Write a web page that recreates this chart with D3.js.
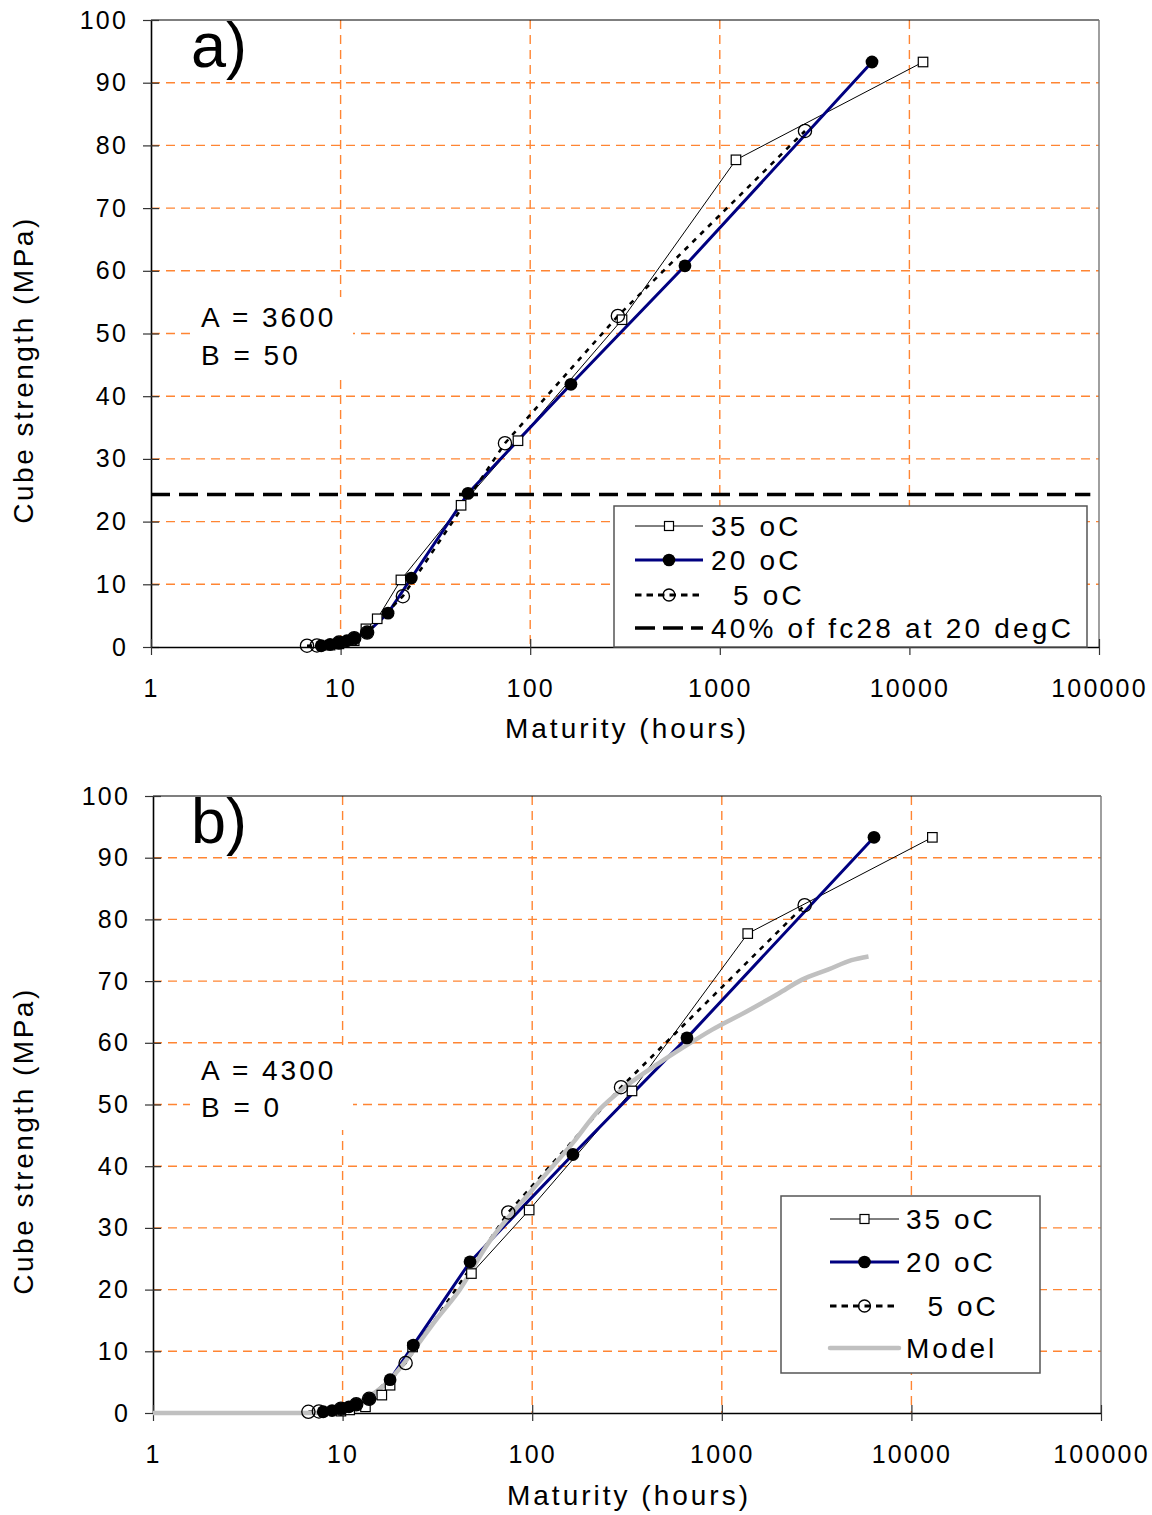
<!DOCTYPE html>
<html>
<head>
<meta charset="utf-8">
<script src="https://cdn.jsdelivr.net/npm/d3@7"></script>
<style>
  body { margin: 0; background: #fff; }
  svg text { font-family: "Liberation Sans", Arial, sans-serif; fill: #000; }
</style>
</head>
<body>
<svg id="chart" width="1152" height="1515"></svg>
<script>
// ---- axis ticks -------------------------------------------------------
const yTicks = [0, 10, 20, 30, 40, 50, 60, 70, 80, 90, 100];
const xTicks = [1, 10, 100, 1000, 10000, 100000];
const xTickLabels = ["1", "10", "100", "1000", "10000", "100000"];

// ---- cube strengths (MPa), same specimens in both panels --------------
const str35 = [0.3, 0.5, 1.0, 2.9, 4.5, 10.7, 22.6, 32.9, 52.2, 77.7, 93.3];
const str20 = [0.2, 0.4, 0.7, 1.0, 1.4, 2.3, 5.4, 11.0, 24.5, 41.9, 60.8, 93.3];
const str5  = [0.2, 0.25, 0.7, 1.4, 2.3, 8.1, 32.5, 52.8, 82.3];

// ---- maturity (hours) at 20 oC reference: equal in both panels ---------
const mat20 = [7.9, 8.8, 9.8, 10.8, 11.8, 13.8, 17.8, 23.6, 47, 164, 655, 6350];

// ---- panel a) maturity, A = 3600, B = 50 ------------------------------
const matA35 = [8.8, 9.8, 11.8, 13.6, 15.6, 20.8, 43.2, 86.2, 305, 1217, 11800];
const matA5  = [6.65, 7.5, 9.8, 11.8, 13.8, 21.3, 73.6, 290, 2813];

// ---- panel b) maturity, A = 4300, B = 0 -------------------------------
const matB35 = [9.8, 10.9, 13.2, 16.1, 17.8, 23.4, 47.8, 96.4, 336, 1370, 12900];
const matB5  = [6.6, 7.5, 9.8, 11.8, 13.8, 21.5, 74.8, 294, 2735];

// ---- strength model curve (panel b) -----------------------------------
const modelMat = [1, 6.7, 10.5, 13.3, 16.3, 20, 24.4, 31.1, 41.3, 57.1, 99.7, 163, 225,
                  311, 466, 594, 886, 1337, 1995, 2636, 3656, 4831, 5940];
const modelStr = [0, 0, 1.0, 2.4, 4.3, 7.2, 10.7, 15.1, 19.9, 27.0, 36.1, 43.7, 49.1,
                  52.9, 56.7, 58.8, 62.1, 65.0, 68.0, 70.2, 71.9, 73.4, 74.0];

// ---- 40 % of the 28-day strength at 20 oC (28 d = 672 h sample) -------
const fc28 = str20[10];
const thresholdMat = [1, 90000];
const thresholdStr = [0.4 * fc28, 0.4 * fc28];

// ---- labels -----------------------------------------------------------
const seriesLabels = ["35 oC", "20 oC", "  5 oC"];
const thresholdLabel = "40% of fc28 at 20 degC";
const modelLabel = "Model";
const xTitle = "Maturity (hours)";
const yTitle = "Cube strength (MPa)";

const GRID = "#ff8533";
const NAVY = "#000080";
const MODEL = "#c0c0c0";

const panels = [
  {
    tag: "a)", A: "3600", B: "50",
    left: 151, right: 1099, top: 20, bottom: 647,
    mat35: matA35, mat5: matA5, threshold: true, model: false,
    ann: { x: 201, y1: 327, y2: 365 },
    yTitleY: 370, xTitleY: 738, tagY: 67,
    legend: { x: 614, y: 506, w: 473, h: 141, sx1: 635, sx2: 703, tx: 711,
              rows: [526, 560, 595, 628], font: 28, ls: 3.2 }
  },
  {
    tag: "b)", A: "4300", B: "0",
    left: 153, right: 1101, top: 796, bottom: 1413,
    mat35: matB35, mat5: matB5, threshold: false, model: true,
    ann: { x: 201, y1: 1080, y2: 1117 },
    yTitleY: 1141, xTitleY: 1505, tagY: 843,
    legend: { x: 781, y: 1196, w: 259, h: 177, sx1: 830, sx2: 899, tx: 906,
              rows: [1219, 1262, 1306, 1348], font: 28, ls: 3.0 }
  }
];

const svg = d3.select("#chart");

function drawSquare(sel, cx, cy, s) {
  sel.append("rect").attr("x", cx - s / 2).attr("y", cy - s / 2)
    .attr("width", s).attr("height", s)
    .attr("fill", "#fff").attr("stroke", "#000").attr("stroke-width", 1.2);
}

panels.forEach(p => {
  const g = svg.append("g");
  const x = d3.scaleLog().domain([1, 100000]).range([p.left, p.right]);
  const y = d3.scaleLinear().domain([0, 100]).range([p.bottom, p.top]);
  const line = d3.line().x(d => x(d[0])).y(d => y(d[1]));

  // gridlines
  g.append("g").selectAll("line").data(yTicks.filter(v => v > 0 && v < 100)).join("line")
    .attr("x1", p.left).attr("x2", p.right)
    .attr("y1", d => y(d)).attr("y2", d => y(d))
    .attr("stroke", GRID).attr("stroke-width", 1.4).attr("stroke-dasharray", "9,6");
  g.append("g").selectAll("line").data(xTicks.filter(v => v > 1 && v < 100000)).join("line")
    .attr("x1", d => x(d)).attr("x2", d => x(d))
    .attr("y1", p.top).attr("y2", p.bottom)
    .attr("stroke", GRID).attr("stroke-width", 1.4).attr("stroke-dasharray", "9,6");

  // frame (top and right)
  g.append("line").attr("x1", p.left).attr("x2", p.right).attr("y1", p.top).attr("y2", p.top)
    .attr("stroke", "#000").attr("stroke-width", 1.2);
  g.append("line").attr("x1", p.right).attr("x2", p.right).attr("y1", p.top).attr("y2", p.bottom)
    .attr("stroke", "#777").attr("stroke-width", 1.4);

  // parameter annotation on a white patch
  g.append("rect").attr("x", p.ann.x - 11).attr("y", p.ann.y1 - 30)
    .attr("width", 163).attr("height", p.ann.y2 - p.ann.y1 + 43).attr("fill", "#fff");
  const annStyle = t => t.attr("font-size", 28).attr("letter-spacing", "3px")
    .attr("xml:space", "preserve").style("white-space", "pre");
  g.append("text").attr("x", p.ann.x).attr("y", p.ann.y1).text("A = " + p.A).call(annStyle);
  g.append("text").attr("x", p.ann.x).attr("y", p.ann.y2).text("B = " + p.B).call(annStyle);

  // panel tag
  g.append("text").attr("x", 191).attr("y", p.tagY).attr("font-size", 63).text(p.tag);

  // axes
  const ay = g.append("g").attr("transform", `translate(${p.left},0)`)
    .call(d3.axisLeft(y).tickValues(yTicks).tickFormat(d3.format("d"))
      .tickSize(8).tickPadding(15).tickSizeOuter(0));
  ay.selectAll(".tick line").attr("x1", 8).attr("stroke", "#333").attr("stroke-width", 1.2);
  const ax = g.append("g").attr("transform", `translate(0,${p.bottom})`)
    .call(d3.axisBottom(x).tickValues(xTicks).tickFormat((d, i) => xTickLabels[i])
      .tickSize(8).tickPadding(24).tickSizeOuter(0));
  ax.selectAll(".tick line").attr("y1", -8).attr("stroke", "#333").attr("stroke-width", 1.2);
  [ax, ay].forEach(a => {
    a.attr("font-family", null).attr("font-size", null);
    a.select(".domain").attr("stroke", "#000").attr("stroke-width", 1.6);
    a.selectAll(".tick text").attr("font-size", 25).attr("letter-spacing", "2.2px").attr("fill", "#000");
  });

  // axis titles
  g.append("text").attr("x", (p.left + p.right) / 2 + 2).attr("y", p.xTitleY)
    .attr("text-anchor", "middle").attr("font-size", 28).attr("letter-spacing", "3px").text(xTitle);
  g.append("text").attr("transform", `translate(33,${p.yTitleY}) rotate(-90)`)
    .attr("text-anchor", "middle").attr("font-size", 28).attr("letter-spacing", "2.5px").text(yTitle);

  // threshold line
  if (p.threshold) {
    g.append("path").datum(d3.zip(thresholdMat, thresholdStr)).attr("d", line)
      .attr("fill", "none").attr("stroke", "#000").attr("stroke-width", 3.5)
      .attr("stroke-dasharray", "19,9");
  }

  const d35 = d3.zip(p.mat35, str35);
  const d20 = d3.zip(mat20, str20);
  const d5 = d3.zip(p.mat5, str5);

  // series lines
  g.append("path").datum(d35).attr("d", line).attr("fill", "none")
    .attr("stroke", "#000").attr("stroke-width", 1);
  g.append("path").datum(d20).attr("d", line).attr("fill", "none")
    .attr("stroke", NAVY).attr("stroke-width", 3);
  g.append("path").datum(d5).attr("d", line).attr("fill", "none")
    .attr("stroke", "#000").attr("stroke-width", 2.6).attr("stroke-dasharray", "5,6");
  if (p.model) {
    g.append("path").datum(d3.zip(modelMat, modelStr))
      .attr("d", line.curve(d3.curveMonotoneX)).attr("fill", "none")
      .attr("stroke", MODEL).attr("stroke-width", 4.5).attr("stroke-linejoin", "round");
    line.curve(d3.curveLinear);
  }

  // markers
  const m35 = g.append("g");
  d35.forEach(d => drawSquare(m35, x(d[0]), y(d[1]), 9.5));
  g.append("g").selectAll("circle").data(d20).join("circle")
    .attr("cx", d => x(d[0])).attr("cy", d => y(d[1])).attr("r", 6.4).attr("fill", "#000");
  g.append("g").selectAll("circle").data(d5).join("circle")
    .attr("cx", d => x(d[0])).attr("cy", d => y(d[1])).attr("r", 6.6)
    .attr("fill", "none").attr("stroke", "#000").attr("stroke-width", 1.3);

  // legend
  const L = p.legend;
  const lg = g.append("g");
  lg.append("rect").attr("x", L.x).attr("y", L.y).attr("width", L.w).attr("height", L.h)
    .attr("fill", "#fff").attr("stroke", "#555").attr("stroke-width", 1.5);
  const mid = (L.sx1 + L.sx2) / 2;
  const seg = r => lg.append("line").attr("x1", L.sx1).attr("x2", L.sx2).attr("y1", r).attr("y2", r);
  seg(L.rows[0]).attr("stroke", "#000").attr("stroke-width", 1);
  drawSquare(lg, mid, L.rows[0], 9);
  seg(L.rows[1]).attr("stroke", NAVY).attr("stroke-width", 3);
  lg.append("circle").attr("cx", mid).attr("cy", L.rows[1]).attr("r", 6.3).attr("fill", "#000");
  seg(L.rows[2]).attr("stroke", "#000").attr("stroke-width", 3).attr("stroke-dasharray", "6.5,5");
  lg.append("circle").attr("cx", mid).attr("cy", L.rows[2]).attr("r", 6)
    .attr("fill", "none").attr("stroke", "#000").attr("stroke-width", 1.3);
  if (p.threshold) {
    seg(L.rows[3]).attr("stroke", "#000").attr("stroke-width", 3.5).attr("stroke-dasharray", "20,8");
  } else {
    seg(L.rows[3]).attr("stroke", MODEL).attr("stroke-width", 4.5).attr("stroke-linecap", "round");
  }
  const labels = seriesLabels.concat([p.threshold ? thresholdLabel : modelLabel]);
  lg.selectAll("text.lab").data(labels).join("text").attr("class", "lab")
    .attr("x", L.tx).attr("y", (d, i) => L.rows[i]).attr("dy", "0.36em")
    .attr("font-size", L.font).attr("letter-spacing", L.ls + "px")
    .attr("xml:space", "preserve").style("white-space", "pre").text(d => d);
});
</script>
</body>
</html>
